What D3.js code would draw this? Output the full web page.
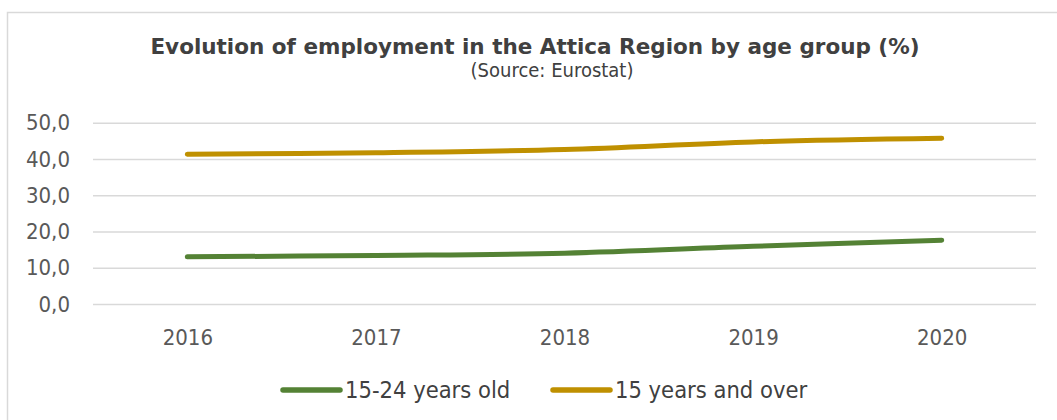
<!DOCTYPE html>
<html>
<head>
<meta charset="utf-8">
<script src="https://cdn.jsdelivr.net/npm/d3@7"></script>
<style>
  body { margin: 0; background: #fff; }
  text { font-family: Tahoma, "DejaVu Sans Condensed", "DejaVu Sans", sans-serif; font-stretch: condensed; }
  text.title { font-family: Tahoma, "DejaVu Sans", sans-serif; font-stretch: normal; }
</style>
</head>
<body>
<div id="chart"></div>
<script>
// chart data
const years = ["2016", "2017", "2018", "2019", "2020"];
const youth = [13.0, 13.4, 14.0, 15.9, 17.6];     // 15-24 years old
const total = [41.3, 41.7, 42.6, 44.7, 45.7];     // 15 years and over
const yTicks = [0, 10, 20, 30, 40, 50];
const seriesNames = ["15-24 years old", "15 years and over"];
const seriesColors = ["#548235", "#bf9000"];

const width = 1057, height = 420;
const plot = { left: 93, right: 1036, top: 122.7, bottom: 304 };

const svg = d3.select("#chart")
    .append("svg")
    .attr("width", width)
    .attr("height", height);

// outer frame
svg.append("rect")
    .attr("x", 7.5).attr("y", 12.5)
    .attr("width", 1060).attr("height", 420)
    .attr("fill", "#fff")
    .attr("stroke", "#d9d9d9")
    .attr("stroke-width", 1.5);

let x = d3.scalePoint()
    .domain(years)
    .range([plot.left, plot.right])
    .padding(0.5);

let y = d3.scaleLinear()
    .domain([0, 50])
    .range([plot.bottom, plot.top]);

// gridlines + y labels
const yAxis = svg.append("g")
    .attr("transform", `translate(${plot.left},0)`)
    .call(d3.axisLeft(y).tickValues(yTicks).tickSize(-(plot.right - plot.left)).tickPadding(23)
        .tickFormat(d => d3.format(".1f")(d).replace(".", ",")));
yAxis.select(".domain").remove();
yAxis.selectAll(".tick line").attr("stroke", "#d9d9d9").attr("stroke-width", 1.5);
yAxis.selectAll(".tick text").attr("fill", "#595959").style("font-size", "22px");

// x labels
const xAxis = svg.append("g")
    .attr("transform", `translate(0,${plot.bottom})`)
    .call(d3.axisBottom(x).tickSize(0).tickPadding(25));
xAxis.select(".domain").remove();
xAxis.selectAll(".tick text").attr("fill", "#595959").style("font-size", "22px");

// lines (smoothed like the original)
let line = d3.line()
    .x((d, i) => x(years[i]))
    .y(d => y(d))
    .curve(d3.curveCatmullRom.alpha(0.5));

[youth, total].forEach((vals, k) => {
    svg.append("path")
        .datum(vals)
        .attr("d", line)
        .attr("fill", "none")
        .attr("stroke", seriesColors[k])
        .attr("stroke-width", 5)
        .attr("stroke-linecap", "round");
});

// title
svg.append("text")
    .attr("class", "title")
    .attr("x", 535).attr("y", 54)
    .attr("text-anchor", "middle")
    .attr("fill", "#404040")
    .style("font-size", "21.5px")
    .style("font-weight", "bold")
    .text("Evolution of employment in the Attica Region by age group (%)");

svg.append("text")
    .attr("x", 552).attr("y", 77)
    .attr("text-anchor", "middle")
    .attr("fill", "#404040")
    .style("font-size", "20px")
    .text("(Source: Eurostat)");

// legend
const legendX = [283, 553];
seriesNames.forEach((name, k) => {
    const g = svg.append("g").attr("transform", `translate(${legendX[k]},390)`);
    g.append("line")
        .attr("x1", 0).attr("x2", 57)
        .attr("stroke", seriesColors[k])
        .attr("stroke-width", 5.5)
        .attr("stroke-linecap", "round");
    g.append("text")
        .attr("x", 62).attr("dy", "0.36em")
        .attr("fill", "#404040")
        .style("font-size", "23.5px")
        .text(name);
});
</script>
</body>
</html>
